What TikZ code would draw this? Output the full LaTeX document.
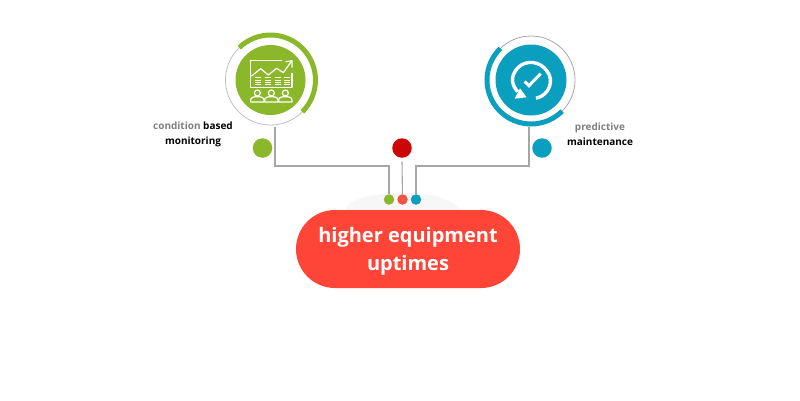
\documentclass[tikz,border=0pt]{standalone}
\usepackage{fontspec}
\usetikzlibrary{calc}
\setmainfont{Open Sans}
\definecolor{grn}{HTML}{8BB82A}
\definecolor{blu}{HTML}{0A9FBF}
\definecolor{redd}{HTML}{CC0508}
\definecolor{coral}{HTML}{FF4438}
\definecolor{wire}{HTML}{A6A6A6}
\definecolor{lbl}{HTML}{808080}
\definecolor{softred}{HTML}{EE5545}
\tikzset{
  dot/.style={circle,fill=#1,inner sep=0pt,minimum size=19.5pt},
  tiny/.style={circle,fill=#1,inner sep=0pt,minimum size=10.5pt},
  disc/.style={circle,fill=#1,inner sep=0pt,minimum size=70pt},
  wireline/.style={draw=wire,line width=1.1pt},
  ring/.style={draw=#1,line width=0.8pt},
  band/.style={draw=#1,line width=5pt},
  ico/.style={draw=white,line width=1.2pt,line cap=round,line join=round},
  caption/.style={font=\bfseries\fontsize{10}{15}\selectfont,align=center,inner sep=0pt,text=black},
}
\begin{document}
\begin{tikzpicture}[x=1pt,y=-1pt]
\useasboundingbox (0,0) rectangle (800,400);
% faint patch behind the small dots
\fill[black!3] (345,210) .. controls (350,197) and (380,193) .. (402,193) .. controls (430,193) and (450,197) .. (460,210) -- cycle;
% green emblem
\node[disc=grn] (gdisc) at (270.5,80) {};
\draw[ring=black!25] (gdisc.center) circle[radius=45];
\draw[band=grn] ($(gdisc.center)+(-45*0.695,-45*0.719)$) arc[start angle=-134,end angle=45,radius=45];
% blue emblem
\node[disc=blu,minimum size=71pt] (bdisc) at (531,80) {};
\draw[ring=black!35] (bdisc.center) circle[radius=44];
\draw[band=blu] ($(bdisc.center)+(-44*0.695,-44*0.719)$) arc[start angle=-134,end angle=-315,radius=44];
% green icon
\begin{scope}[shift={(210,20)},x=0.3333pt,y=-0.3333pt]
\draw[ico] (215,122) -- (122,122) -- (122,200);
\draw[ico] (125,168) -- (152,146) -- (175,165) -- (200,145) -- (220,158) -- (244,124);
\draw[ico] (228,125) -- (246,122) -- (246,142);
\draw[ico] (246,160) -- (246,200);
\draw[ico] (122,202) -- (246,202);
\foreach \xx in {136,165,194,222}{
  \foreach \yy in {174,181,188,195}{
    \draw[draw=white,line width=1pt] (\xx,\yy) -- ++(18,0);
  }
}
\foreach \xx in {142,184,226}{
  \draw[ico] (\xx,219) circle[radius=9];
  \draw[ico] (\xx-20,246) -- (\xx-20,240) .. controls (\xx-20,232) and (\xx-10,230) .. (\xx,230) .. controls (\xx+10,230) and (\xx+20,232) .. (\xx+20,240) -- (\xx+20,246) -- cycle;
}
\end{scope}
% blue icon
\begin{scope}[shift={(470,20)},x=0.3333pt,y=-0.3333pt]
\draw[draw=white,line width=3.4pt] (198,235) .. controls (240,225) and (252,180) .. (232,155) .. controls (212,122) and (165,118) .. (142,145) .. controls (120,170) and (125,195) .. (143,215);
\fill[white] (134,236) -- (170,232) -- (150,205) -- cycle;
\draw[draw=white,line width=3pt,line join=miter] (164,184) -- (177,197) -- (212,161);
\end{scope}
% dots
\node[dot=grn] (gdot) at (262.5,148) {};
\node[dot=redd] (rdot) at (402,148) {};
\node[dot=blu] (bdot) at (542,148) {};
% connectors
\coordinate (gstart) at (275,127);
\coordinate (gturn) at (389,166);
\coordinate (bstart) at (529,127);
\coordinate (bturn) at (416,166);
\coordinate (rstart) at (402,161.5);
\node[tiny=grn] (gsmall) at (389,199.5) {};
\node[tiny=softred] (rsmall) at (402.5,199.5) {};
\node[tiny=blu] (bsmall) at (416,199.5) {};
\draw[wireline] (gstart) |- (gturn) -- (gsmall);
\draw[wireline] (bstart) |- (bturn) -- (bsmall);
\draw[wireline] (rstart) -- (rsmall);
% main pill
\node[fill=coral,rounded corners=39pt,minimum width=224pt,minimum height=78pt,inner sep=0pt] (pill) at (408,249) {};
\node[text=white,align=center,inner sep=0pt,font=\bfseries\fontsize{20}{28}\selectfont] (pilltext) at (408,251) {higher equipment\\uptimes};
% captions
\node[caption] (gcap) at (193,134.5) {\textcolor{lbl}{condition} based\\monitoring};
\node[caption] (bcap) at (600,134.5) {\textcolor{lbl}{predictive}\\maintenance};
\end{tikzpicture}
\end{document}
